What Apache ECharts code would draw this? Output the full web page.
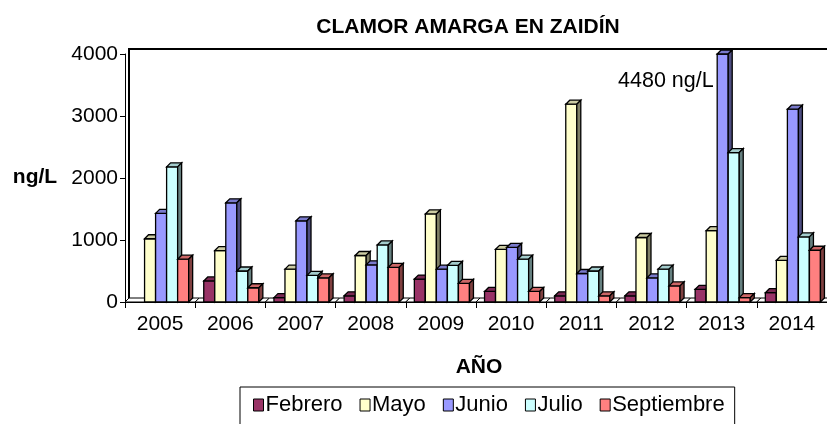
<!DOCTYPE html>
<html>
<head>
<meta charset="utf-8">
<script src="https://cdn.jsdelivr.net/npm/echarts@6/dist/echarts.min.js"></script>
<style>
  html, body { margin: 0; padding: 0; background: #fff; }
  #main { width: 827px; height: 424px; }
</style>
</head>
<body>
<div id="main"></div>
<script>
// datos (ng/L)
const years = ['2005', '2006', '2007', '2008', '2009', '2010', '2011', '2012', '2013', '2014'];
const febrero = [0, 340, 70, 100, 370, 170, 100, 100, 205, 150];
const mayo = [1020, 830, 530, 750, 1420, 850, 3190, 1040, 1150, 670];
const junio = [1430, 1600, 1310, 600, 530, 880, 460, 390, 4480, 3110];
const julio = [2180, 500, 430, 920, 590, 690, 500, 530, 2410, 1050];
const septiembre = [690, 230, 390, 560, 300, 170, 100, 260, 70, 835];
const yTicks = [0, 1000, 2000, 3000, 4000];

const FONT = "'Liberation Sans', Arial, sans-serif";
const Y_MAX = 4000;
const DEPTH = 4;

const seriesDef = [
  { name: 'Febrero', data: febrero, color: '#993366' },
  { name: 'Mayo', data: mayo, color: '#FFFFCC' },
  { name: 'Junio', data: junio, color: '#9999FF' },
  { name: 'Julio', data: julio, color: '#CCFFFF' },
  { name: 'Septiembre', data: septiembre, color: '#FF8080' },
];

function shade(hex, k) {
  const n = parseInt(hex.slice(1), 16);
  const r = Math.round(((n >> 16) & 255) * k);
  const g = Math.round(((n >> 8) & 255) * k);
  const b = Math.round((n & 255) * k);
  return 'rgb(' + r + ',' + g + ',' + b + ')';
}

const chart = echarts.init(document.getElementById('main'));

function makeRender(sIdx, color) {
  return function (params, api) {
    const cat = api.value(0);
    const v = Math.min(api.value(1), Y_MAX);
    const base = api.coord([cat, 0]);
    const top = api.coord([cat, v]);
    const cw = api.size([1, 0])[0];
    const bw = cw * 0.157;
    const x0 = base[0] - 2.5 * bw + 1 + sIdx * bw;
    const d = DEPTH;
    const line = { stroke: '#000', lineWidth: 1.3 };
    const children = [];
    if (sIdx === 0) {
      // suelo
      const cs = base[0] - cw / 2, ce = base[0] + cw / 2;
      children.push({
        type: 'polygon',
        shape: { points: [[cs, base[1]], [cs + d, base[1] - d], [ce + d, base[1] - d], [ce, base[1]]] },
        style: { fill: '#fff', stroke: '#000', lineWidth: 1 },
      });
    }
    if (v > 0) {
      children.push({
        type: 'rect',
        shape: { x: x0, y: top[1], width: bw, height: base[1] - top[1] },
        style: Object.assign({ fill: color }, line),
      });
      children.push({
        type: 'polygon',
        shape: { points: [[x0, top[1]], [x0 + d, top[1] - d], [x0 + bw + d, top[1] - d], [x0 + bw, top[1]]] },
        style: Object.assign({ fill: shade(color, 0.8) }, line),
      });
      children.push({
        type: 'polygon',
        shape: { points: [[x0 + bw, top[1]], [x0 + bw + d, top[1] - d], [x0 + bw + d, base[1] - d], [x0 + bw, base[1]]] },
        style: Object.assign({ fill: shade(color, 0.5) }, line),
      });
    }
    return { type: 'group', children: children };
  };
}

const option = {
  animation: false,
  backgroundColor: '#fff',
  textStyle: { fontFamily: FONT },
  grid: { left: 125, right: 0, top: 54, bottom: 122 },
  legend: {
    data: seriesDef.map(s => s.name),
    left: 240,
    top: 387,
    padding: [7, 10, 14, 13],
    itemGap: 17,
    itemWidth: 10,
    itemHeight: 12,
    icon: 'rect',
    borderColor: '#000',
    borderWidth: 1,
    itemStyle: { borderColor: '#000', borderWidth: 1 },
    textStyle: { fontFamily: FONT, fontSize: 22, color: '#000', padding: [0, 0, 0, -3] },
  },
  xAxis: {
    type: 'category',
    data: years,
    axisLine: { show: true, lineStyle: { color: '#000', width: 1 } },
    axisTick: { show: true, length: 6, lineStyle: { color: '#000' } },
    axisLabel: { fontFamily: FONT, fontSize: 21, color: '#000', margin: 12 },
  },
  yAxis: {
    type: 'value',
    min: yTicks[0],
    max: yTicks[yTicks.length - 1],
    interval: 1000,
    axisLine: { show: true, lineStyle: { color: '#000', width: 1 } },
    axisTick: { show: true, length: 5, lineStyle: { color: '#000' } },
    axisLabel: { fontFamily: FONT, fontSize: 21, color: '#000', margin: 7, formatter: v => String(v) },
    splitLine: { show: false },
  },
  series: seriesDef.map((s, i) => ({
    name: s.name,
    type: 'custom',
    itemStyle: { color: s.color, borderColor: '#000', borderWidth: 1 },
    data: s.data.map((v, j) => [j, v]),
    encode: { x: 0, y: 1 },
    renderItem: makeRender(i, s.color),
    clip: false,
  })),
};

chart.setOption(option);

// pared del fondo y textos
const p0 = chart.convertToPixel({ gridIndex: 0 }, [0, 0]);
const pTop = chart.convertToPixel({ gridIndex: 0 }, [0, Y_MAX]);
const left = 125 + DEPTH, topY = pTop[1] - DEPTH - 1;
const p2013 = chart.convertToPixel({ gridIndex: 0 }, [8, Y_MAX]);
chart.setOption({
  graphic: [
    { type: 'polyline', shape: { points: [[left, p0[1] - DEPTH], [left, topY], [827, topY]] }, style: { stroke: '#000', lineWidth: 2, fill: null }, z: 5 },
    { type: 'text', x: 468, y: 27, style: { text: 'CLAMOR AMARGA EN ZAIDÍN', font: 'bold 21px ' + FONT, fill: '#000', textAlign: 'center', textVerticalAlign: 'middle' } },
    { type: 'text', x: 35, y: 177, style: { text: 'ng/L', font: 'bold 21px ' + FONT, fill: '#000', textAlign: 'center', textVerticalAlign: 'middle' } },
    { type: 'text', x: 479, y: 367, style: { text: 'AÑO', font: 'bold 21px ' + FONT, fill: '#000', textAlign: 'center', textVerticalAlign: 'middle' } },
    { type: 'text', x: p2013[0] - 8, y: 81, style: { text: junio[8] + ' ng/L', font: '21.5px ' + FONT, fill: '#000', textAlign: 'right', textVerticalAlign: 'middle' } },
  ],
});
</script>
</body>
</html>
